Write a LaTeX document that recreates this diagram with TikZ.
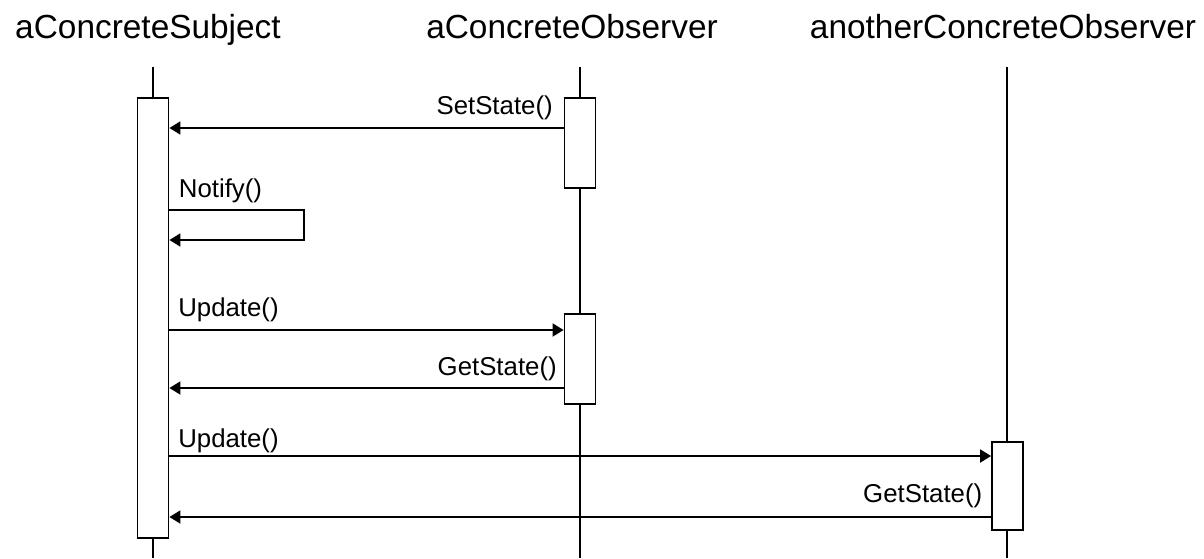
\documentclass[tikz,border=0pt]{standalone}
\usepackage{fontspec}
\setmainfont{Liberation Sans}
\usetikzlibrary{arrows.meta}
\begin{document}
\begin{tikzpicture}[
        x                       = 0.5pt,
        y                       = -0.5pt,
        line width              = 0.9pt,
        head/.style             = {anchor=base, inner sep=0, font=\fontsize{16.7}{20}\selectfont},
        act/.style              = {draw, fill=white, inner sep=0, minimum width=15.5pt},
        msg/.style              = {-{Triangle[length=5.5pt, width=6.5pt]}},
        lbl/.style              = {inner sep=0, font=\fontsize{12.9}{15}\selectfont},
        %lifelines
      ]
        \useasboundingbox (0,0) rectangle (1204,558);
        % headings
        \node[head] (subj)  at (148,38)  {aConcreteSubject};
        \node[head] (obs)   at (572,38)  {aConcreteObserver};
        \node[head] (other) at (1003,38) {anotherConcreteObserver};
        % lifelines
        \coordinate (subjtop)  at (153,67);
        \coordinate (obstop)   at (580,67);
        \coordinate (othertop) at (1007,67);
        \draw (subjtop)  -- (subjtop |- 0,558);
        \draw (obstop)   -- (obstop |- 0,558);
        \draw (othertop) -- (othertop |- 0,558);
        % activations
        \node[act, minimum height=220pt] (s1) at (153,318)    {};
        \node[act, minimum height=45pt]  (o1) at (580,143)    {};
        \node[act, minimum height=45pt]  (o2) at (580,359)    {};
        \node[act, minimum height=44pt]  (a1) at (1007.5,486) {};
        % message rows
        \coordinate (m1) at (0,128);
        \coordinate (m2) at (0,210);
        \coordinate (m3) at (0,240);
        \coordinate (m4) at (0,330);
        \coordinate (m5) at (0,388);
        \coordinate (m6) at (0,456);
        \coordinate (m7) at (0,517);
        \coordinate (loop) at (304,210);
        % messages
        \draw[msg] (o1.west |- m1) -- (s1.east |- m1)
            node[lbl, pos=0, anchor=base east, xshift=-5pt, yshift=7pt] (setstate) {SetState()};
        \draw[msg] (s1.east |- m2) -- (loop) -- (loop |- m3) -- (s1.east |- m3);
        \node[lbl, anchor=base west] (notify) at (178,197) {Notify()};
        \draw[msg] (s1.east |- m4) -- (o2.west |- m4)
            node[lbl, pos=0, anchor=base west, xshift=4pt, yshift=7pt] (update1) {Update()};
        \draw[msg] (o2.west |- m5) -- (s1.east |- m5)
            node[lbl, pos=0, anchor=base east, xshift=-3pt, yshift=6.5pt] (getstate1) {GetState()};
        \draw[msg] (s1.east |- m6) -- (a1.west |- m6)
            node[lbl, pos=0, anchor=base west, xshift=4pt, yshift=4.5pt] (update2) {Update()};
        \draw[msg] (a1.west |- m7) -- (s1.east |- m7)
            node[lbl, pos=0, anchor=base east, xshift=-4pt, yshift=7.5pt] (getstate2) {GetState()};
    \end{tikzpicture}
\end{document}
